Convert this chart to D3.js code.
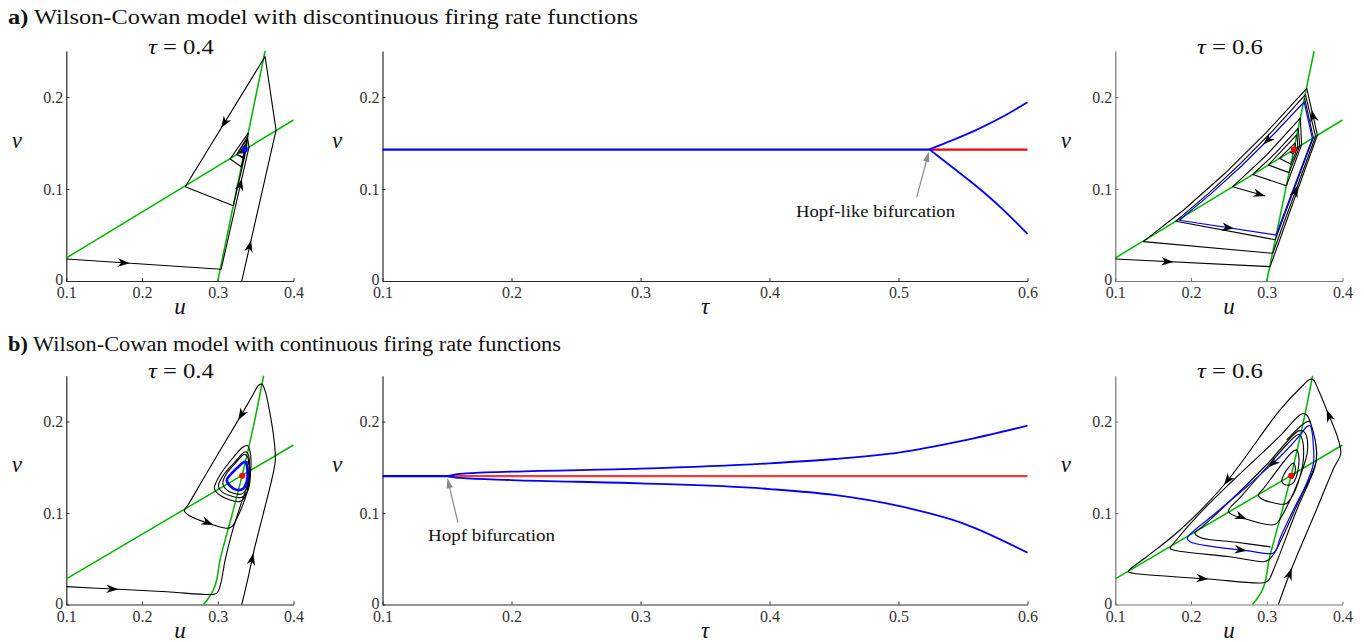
<!DOCTYPE html>
<html><head><meta charset="utf-8">
<script src="https://cdn.jsdelivr.net/npm/d3@7"></script>
<style>body{margin:0;background:#fff}svg{display:block}</style>
</head><body><svg id="c" width="1364" height="642"></svg>
<script>
// ================= DATA =================
const headingA = ["a)", " Wilson-Cowan model with discontinuous firing rate functions"];
const headingB = ["b)", " Wilson-Cowan model with continuous firing rate functions"];
const sideXTicks = [0.1, 0.2, 0.3, 0.4];
const midXTicks = [0.1, 0.2, 0.3, 0.4, 0.5, 0.6];
const yTicks = [0, 0.1, 0.2];
const tauLeft = 0.4, tauRight = 0.6;

// nullclines (u, v)
const discNull1 = [[0.1, 0.025], [0.4, 0.175]];
const discNull2 = [[0.3, 0], [0.3625, 0.25]];
const contNull1 = [[0.1, 0.0279], [0.4, 0.1743]];
const contNull2 = [[0.281, 0], [0.2876, 0.0068], [0.2942, 0.0158], [0.2986, 0.0268], [0.303, 0.0486], [0.3176, 0.0942], [0.3322, 0.1408], [0.347, 0.1943], [0.3605, 0.25]];
const discFixed = [0.3357, 0.1429];
const contFixed = [0.3322, 0.1408];

// (a) tau = 0.4 trajectories
const tlTrajA = [[0.1,0.0239],[0.3044,0.0127],[0.3413,0.1457],[0.3391,0.1564],[0.325,0.1375],[0.3337,0.1347],[0.3362,0.1431],[0.3368,0.1472],[0.3305,0.1402],[0.3351,0.1404],[0.3357,0.1429]];
const tlTrajB = [[0.3317,0],[0.377,0.164],[0.3625,0.244],[0.257,0.1025],[0.3206,0.0819],[0.3378,0.144],[0.3402,0.1608],[0.3163,0.1326],[0.3311,0.1242],[0.337,0.1435],[0.3385,0.154],[0.3255,0.1378],[0.3334,0.1335],[0.3362,0.1431],[0.3372,0.149],[0.329,0.1395],[0.3348,0.1392],[0.3357,0.1429]];
const tlArrows = [[0,0,0.41],[0,1,0.74],[1,0,0.27],[1,2,0.55]];

// (a) tau = 0.6 trajectories
const trOuter = [[0.1,0.0239],[0.3044,0.0156],[0.3669,0.1585],[0.3528,0.2094],[0.2989,0.161],[0.2449,0.1171],[0.191,0.0777],[0.137,0.0428],[0.3079,0.0301],[0.3645,0.1573],[0.351,0.2025],[0.3083,0.1636],[0.2655,0.1278],[0.2228,0.0949],[0.18,0.065],[0.3112,0.0448],[0.3615,0.1558],[0.3498,0.199]];
const trInner = [[0.331,0.1405],[0.3345,0.138],[0.3385,0.1443],[0.3375,0.15],[0.3167,0.1334],[0.3318,0.127],[0.341,0.1455],[0.3398,0.159],[0.302,0.126],[0.3295,0.1178],[0.3435,0.1468],[0.3415,0.166],[0.3115,0.1389],[0.2815,0.1158],[0.3259,0.1036],[0.346,0.148],[0.3443,0.177],[0.2997,0.1368],[0.2551,0.1025],[0.2978,0.0924]];
const trCycle = [[0.1846,0.066],[0.3123,0.05],[0.3602,0.155],[0.3493,0.1946],[0.3081,0.1587],[0.267,0.1253],[0.2258,0.0944],[0.1846,0.066]];
const trArrows = [[0,0,0.375],[0,2,0.54],[0,8,0.58],[1,18,1],[2,4,0.31],[2,0,0.565]];

// (b) tau = 0.4 trajectories
const blTraj1 = [[0.1,0.0195],[0.1687,0.0166],[0.2327,0.014],[0.2942,0.0111],[0.2995,0.0129],[0.304,0.0232],[0.3097,0.0486],[0.3185,0.0778],[0.3295,0.1069],[0.3383,0.1287],[0.3418,0.1506],[0.34,0.1645],[0.3361,0.1669],[0.3229,0.1561],[0.3075,0.1415],[0.3008,0.1295],[0.3052,0.1233],[0.3207,0.1178],[0.3317,0.1171],[0.3392,0.1233],[0.3427,0.138],[0.3405,0.155],[0.3365,0.1561]];
const blTraj2 = [[0.3317,0],[0.3404,0.0304],[0.347,0.056],[0.3602,0.0997],[0.3712,0.1361],[0.376,0.158],[0.3743,0.1798],[0.3681,0.2126],[0.3628,0.2326],[0.3584,0.2407],[0.354,0.2396],[0.345,0.227],[0.327,0.2015],[0.305,0.171],[0.28,0.136],[0.2605,0.1085],[0.2558,0.1025],[0.2611,0.0978],[0.2942,0.0869],[0.3119,0.0833],[0.3185,0.085],[0.3273,0.0978],[0.3383,0.1215],[0.3436,0.147],[0.3427,0.167],[0.3392,0.1736],[0.333,0.1718],[0.3207,0.1609],[0.3029,0.1415],[0.2955,0.127],[0.2986,0.1222],[0.3163,0.1142],[0.3286,0.1124],[0.3361,0.1178],[0.341,0.1325],[0.3414,0.1506],[0.3392,0.1615],[0.3348,0.1641],[0.3251,0.1561],[0.3119,0.1434],[0.3066,0.1325],[0.3097,0.127],[0.3207,0.1215],[0.3317,0.1208],[0.3383,0.1269],[0.3405,0.1397],[0.3388,0.1524],[0.3365,0.1561]];
const blCycle = [[0.3365,0.1561],[0.3392,0.147],[0.3383,0.1342],[0.3339,0.1269],[0.326,0.1251],[0.3163,0.1295],[0.3119,0.1361],[0.3163,0.1415],[0.3273,0.1506],[0.3339,0.1553]];
const blArrows = [[0,0,1],[1,1,1],[1,11,1],[1,17,1]];

// (b) tau = 0.6 trajectories
const brTrajA = [[0.3153,0],[0.333,0.0396],[0.3655,0.1033],[0.389,0.15],[0.3977,0.1645],[0.3946,0.1798],[0.3792,0.2126],[0.3682,0.2344],[0.3616,0.2454],[0.3571,0.2461],[0.3483,0.2399],[0.3175,0.2126],[0.2435,0.1306],[0.1854,0.0814],[0.1414,0.0522],[0.1194,0.0385],[0.1172,0.0359],[0.1238,0.0341],[0.2229,0.0279],[0.2956,0.0238],[0.3022,0.0264],[0.3088,0.0377],[0.3396,0.1033],[0.3638,0.1506],[0.366,0.1652],[0.3594,0.1943],[0.3527,0.2071],[0.3461,0.2082],[0.3175,0.1842],[0.2515,0.1325],[0.2075,0.096],[0.1788,0.0686],[0.1723,0.0614],[0.1811,0.0588],[0.2515,0.0522],[0.2956,0.0468],[0.3022,0.0486],[0.3105,0.057],[0.343,0.1142],[0.3645,0.1543],[0.3655,0.1689],[0.3605,0.1915],[0.356,0.2],[0.3505,0.1987],[0.3263,0.1798]];
const brTrajC = [[0.333,0.137],[0.3365,0.142],[0.3375,0.151],[0.335,0.1545],[0.33,0.151],[0.322,0.141],[0.3198,0.1342],[0.323,0.1315],[0.3299,0.1305],[0.336,0.134],[0.341,0.146],[0.3425,0.16],[0.3396,0.1689],[0.334,0.167],[0.315,0.148],[0.295,0.126],[0.2889,0.1197],[0.294,0.115],[0.31,0.111],[0.3242,0.1098],[0.332,0.116],[0.344,0.14],[0.3485,0.16],[0.347,0.18],[0.343,0.186],[0.335,0.182],[0.3,0.15],[0.265,0.117],[0.2493,0.1014],[0.2735,0.0931],[0.3066,0.0869],[0.3132,0.0887],[0.322,0.0997],[0.344,0.1397],[0.354,0.17],[0.35,0.188],[0.343,0.19],[0.3,0.153],[0.25,0.112],[0.215,0.085],[0.205,0.078],[0.213,0.073],[0.26,0.068],[0.305,0.063]];
const brCycle = [[0.1951,0.0723],[0.1987,0.0686],[0.2295,0.0632],[0.2735,0.0588],[0.3078,0.0559],[0.3122,0.0588],[0.3175,0.0723],[0.3351,0.1033],[0.3527,0.1325],[0.3616,0.1543],[0.3616,0.1725],[0.3593,0.1906],[0.3571,0.1954],[0.3527,0.1943],[0.3439,0.1852],[0.3175,0.1615],[0.3021,0.150],[0.2735,0.1287],[0.2295,0.0978]];
const brArrows = [[0,0,1],[0,5,1],[0,11,1],[0,17,1],[1,28,1],[2,2,1],[2,15,1]];

// bifurcation diagrams
const midAFixedV = 0.1429, midAHopf = 0.524;
const midACycleTau = [0.524, 0.54, 0.56, 0.58, 0.6];
const midAUpper = [0.1431, 0.152, 0.164, 0.178, 0.1942];
const midALower = [0.1431, 0.1255, 0.1035, 0.079, 0.0511];
const midBFixedV = 0.1404, midBHopf = 0.15;
const midBCycleTau = [0.15, 0.16, 0.2, 0.3, 0.4, 0.45, 0.5, 0.55, 0.6];
const midBUpper = [0.1404, 0.1428, 0.1452, 0.1484, 0.1543, 0.159, 0.166, 0.179, 0.1954];
const midBLower = [0.1404, 0.1383, 0.136, 0.1324, 0.1262, 0.1197, 0.1077, 0.0887, 0.0566];
const annA = {text: "Hopf-like bifurcation", tail: [0.5141, 0.091], tip: [0.5235, 0.1405], label: [0.4822, 0.0696]};
const annB = {text: "Hopf bifurcation", tail: [0.1585, 0.0894], tip: [0.1503, 0.1379], label: [0.1845, 0.0694]};

// ================= DRAWING =================
const FONT = '"Liberation Serif","Times New Roman",serif';
const GREEN = "#00b400", BLUE = "#0000ff", RED = "#ff0000";
const svg = d3.select("#c");
const rows = [{bottom: 281, top: 51}, {bottom: 604.5, top: 375.75}];
const cols = {left: [66.3, 293.5], mid: [382.5, 1027.5], right: [1115.3, 1342.5]};
const fmt = d => d === 0 ? "0" : d3.format(".1f")(d);

function axes(x, y, xt, color) {
  const gx = svg.append("g").attr("transform", `translate(0,${y.range()[0]})`)
    .call(d3.axisBottom(x).tickValues(xt).tickFormat(fmt).tickSizeInner(-3).tickSizeOuter(0).tickPadding(6));
  const gy = svg.append("g").attr("transform", `translate(${x.range()[0]},0)`)
    .call(d3.axisLeft(y).tickValues(yTicks).tickFormat(fmt).tickSizeInner(-3).tickSizeOuter(0).tickPadding(3));
  [gx, gy].forEach(g => {
    g.attr("font-family", FONT).attr("font-size", 16);
    g.select(".domain").attr("stroke", color).attr("stroke-width", 1.2);
    g.selectAll(".tick line").attr("stroke", color).attr("stroke-width", 1);
    g.selectAll(".tick text").attr("fill", "#333");
  });
  gy.selectAll(".tick text").filter(d => d === 0).attr("dy", "0.22em");
}
function label(txt, x, y, size, italic) {
  svg.append("text").attr("x", x).attr("y", y).attr("text-anchor", "middle")
    .attr("font-family", FONT).attr("font-size", size).attr("font-style", italic ? "italic" : "normal")
    .attr("fill", "#111").text(txt);
}
function title(tau, x, y) {
  const t = svg.append("text").attr("x", x).attr("y", y).attr("text-anchor", "middle")
    .attr("font-family", FONT).attr("font-size", 20).attr("fill", "#111")
    .attr("textLength", 66).attr("lengthAdjust", "spacingAndGlyphs");
  t.append("tspan").attr("font-style", "italic").text("τ");
  t.append("tspan").text(" = " + tau.toFixed(1));
}
function arrowHead(g, x, y, traj, seg, t, fill) {
  const a = traj[seg], b = traj[seg + 1];
  const ax = x(a[0]), ay = y(a[1]), bx = x(b[0]), by = y(b[1]);
  const px = ax + t * (bx - ax), py = ay + t * (by - ay);
  const ang = Math.atan2(by - ay, bx - ax) * 180 / Math.PI;
  g.append("path").attr("d", "M0,0L-12,-4.3L-8.5,0L-12,4.3Z").attr("fill", fill)
    .attr("transform", `translate(${px},${py}) rotate(${ang})`);
}

function phase(opts) {
  const x = d3.scaleLinear([0.1, 0.4], opts.xr);
  const y = d3.scaleLinear([0, 0.25], [opts.row.bottom, opts.row.top]);
  axes(x, y, sideXTicks, opts.axisColor);
  const g = svg.append("g");
  const curve = opts.smooth ? d3.curveCatmullRom.alpha(0.5) : d3.curveLinear;
  const line = d3.line().x(d => x(d[0])).y(d => y(d[1])).curve(curve);
  const nline = d3.line().x(d => x(d[0])).y(d => y(d[1])).curve(d3.curveCatmullRom.alpha(0.5));
  opts.nulls.forEach(n => g.append("path").attr("d", nline(n)).attr("fill", "none").attr("stroke", GREEN).attr("stroke-width", 1.5));
  opts.trajs.forEach(tr => g.append("path").attr("d", line(tr)).attr("fill", "none").attr("stroke", "#000").attr("stroke-width", 1.1).attr("stroke-linejoin", "round"));
  if (opts.cycle) {
    const cl = opts.smooth ? d3.line().x(d => x(d[0])).y(d => y(d[1])).curve(d3.curveCatmullRomClosed.alpha(0.5)) : line;
    g.append("path").attr("d", cl(opts.cycle)).attr("fill", "none").attr("stroke", BLUE).attr("stroke-width", opts.cycleWidth);
  }
  const all = opts.trajs.concat(opts.cycle ? [opts.cycle.concat([opts.cycle[0]])] : []);
  opts.arrows.forEach(([k, s, t]) => arrowHead(g, x, y, all[k], s, t, "#000"));
  g.append("circle").attr("cx", x(opts.fixed[0])).attr("cy", y(opts.fixed[1])).attr("r", 3).attr("fill", opts.fixedColor);
  const cx = (opts.xr[0] + opts.xr[1]) / 2;
  title(opts.tau, cx + 1, opts.row.top + 2.5);
  label("u", cx, opts.row.bottom + 33, 23, true);
  label("v", opts.xr[0] - 49.5, opts.row.bottom - 133, 23, true);
}

function bif(opts) {
  const x = d3.scaleLinear([0.1, 0.6], cols.mid);
  const y = d3.scaleLinear([0, 0.25], [opts.row.bottom, opts.row.top]);
  axes(x, y, midXTicks, "#2a2a2a");
  const g = svg.append("g");
  const line = d3.line().x(d => x(d[0])).y(d => y(d[1])).curve(d3.curveMonotoneX);
  g.append("path").attr("d", line([[opts.hopf, opts.fixedV], [0.6, opts.fixedV]])).attr("stroke", opts.red).attr("stroke-width", 2.2).attr("fill", "none");
  g.append("path").attr("d", line([[0.1, opts.fixedV], [opts.hopf, opts.fixedV]])).attr("stroke", BLUE).attr("stroke-width", 2.2).attr("fill", "none");
  [opts.upper, opts.lower].forEach(arr => {
    g.append("path").attr("d", line(opts.taus.map((t, i) => [t, arr[i]]))).attr("stroke", BLUE).attr("stroke-width", 1.8).attr("fill", "none");
  });
  const a = opts.ann;
  const tx = x(a.tail[0]), ty = y(a.tail[1]), hx = x(a.tip[0]), hy = y(a.tip[1]);
  const ang = Math.atan2(hy - ty, hx - tx);
  const bx = hx - 9 * Math.cos(ang), by = hy - 9 * Math.sin(ang);
  g.append("line").attr("x1", tx).attr("y1", ty).attr("x2", bx).attr("y2", by).attr("stroke", "#8a8a8a").attr("stroke-width", 1.2);
  g.append("path").attr("d", "M0,0L-10,-3.2L-10,3.2Z").attr("fill", "#8a8a8a")
    .attr("transform", `translate(${hx},${hy}) rotate(${ang * 180 / Math.PI})`);
  svg.append("text").attr("x", x(a.label[0])).attr("y", y(a.label[1])).attr("text-anchor", "middle")
    .attr("font-family", FONT).attr("font-size", 17).attr("fill", "#111")
    .attr("textLength", opts.annWidth).attr("lengthAdjust", "spacingAndGlyphs").text(a.text);
  label("τ", (cols.mid[0] + cols.mid[1]) / 2, opts.row.bottom + 33, 23, true);
  label("v", cols.mid[0] - 45.5, opts.row.bottom - 133, 23, true);
}

function heading(h, y, width) {
  const t = svg.append("text").attr("x", 8).attr("y", y).attr("font-family", FONT).attr("font-size", 20).attr("fill", "#111")
    .attr("textLength", width).attr("lengthAdjust", "spacingAndGlyphs");
  t.append("tspan").attr("font-weight", "bold").text(h[0]);
  t.append("tspan").text(h[1]);
}

heading(headingA, 24, 630);
heading(headingB, 351, 553);

phase({xr: cols.left, row: rows[0], axisColor: "#2a2a2a", smooth: false, nulls: [discNull1, discNull2],
  trajs: [tlTrajA, tlTrajB], cycle: null, arrows: tlArrows, fixed: discFixed, fixedColor: BLUE, tau: tauLeft});
phase({xr: cols.right, row: rows[0], axisColor: "#777", smooth: false, nulls: [discNull1, discNull2],
  trajs: [trOuter, trInner], cycle: trCycle, cycleWidth: 1.2, arrows: trArrows, fixed: discFixed, fixedColor: RED, tau: tauRight});
phase({xr: cols.left, row: rows[1], axisColor: "#2a2a2a", smooth: true, nulls: [contNull1, contNull2],
  trajs: [blTraj1, blTraj2], cycle: blCycle, cycleWidth: 2.6, arrows: blArrows, fixed: contFixed, fixedColor: RED, tau: tauLeft});
phase({xr: cols.right, row: rows[1], axisColor: "#777", smooth: true, nulls: [contNull1, contNull2],
  trajs: [brTrajA, brTrajC], cycle: brCycle, cycleWidth: 1.2, arrows: brArrows, fixed: contFixed, fixedColor: RED, tau: tauRight});

bif({row: rows[0], fixedV: midAFixedV, hopf: midAHopf, taus: midACycleTau, upper: midAUpper, lower: midALower, ann: annA, annWidth: 159, red: RED});
bif({row: rows[1], fixedV: midBFixedV, hopf: midBHopf, taus: midBCycleTau, upper: midBUpper, lower: midBLower, ann: annB, annWidth: 127, red: "#f03c3c"});
</script></body></html>
